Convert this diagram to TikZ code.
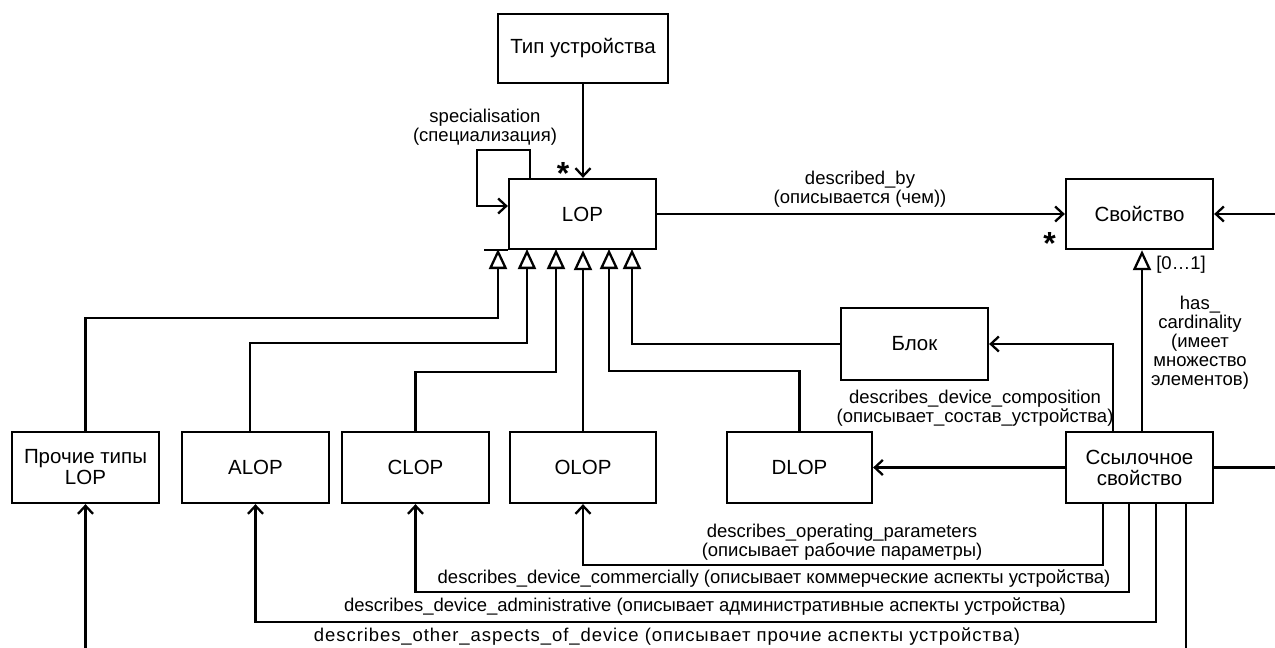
\documentclass[tikz,border=0pt]{standalone}
\usepackage{fontspec}
\setmainfont{Liberation Sans}
\usetikzlibrary{arrows.meta}
\begin{document}
\begin{tikzpicture}[x=1pt,y=-1pt,
  box/.style={draw,line width=2.3pt,minimum width=147pt,minimum height=71pt,inner sep=2pt,align=center,font=\fontsize{20.5}{21}\selectfont},
  lbl/.style={inner sep=0pt,align=center,font=\fontsize{18.5}{19}\selectfont},
  conn/.style={line width=2.3pt},
  arr/.style={conn,-{Straight Barb[length=8pt,width=15pt,line width=2.3pt]}},
  gen/.style={conn,-{Triangle[open,length=20pt,width=18pt,line width=2.3pt]}},
  star/.style={inner sep=0pt,font=\fontsize{32}{32}\selectfont\bfseries}
]
\useasboundingbox (0,0) rectangle (1275,648);
\fill[white] (0,0) rectangle (1275,648);

% boxes
\node[box,minimum width=170pt,minimum height=69pt] (typ) at (583,48.5) {Тип устройства};
\node[box,minimum height=70pt] (lop) at (582.5,214) {LOP};
\node[box,minimum height=70pt] (svo) at (1139.5,214) {Свойство};
\node[box,minimum height=72pt] (blok) at (914.5,344) {Блок};
\node[box] (proch) at (85.5,467.5) {Прочие типы\\LOP};
\node[box] (alop) at (255.5,467.5) {ALOP};
\node[box] (clop) at (415.5,467.5) {CLOP};
\node[box,minimum width=146pt] (olop) at (583,467.5) {OLOP};
\node[box,minimum width=145pt] (dlop) at (799.5,467.5) {DLOP};
\node[box] (ssyl) at (1139.5,467.5) {Ссылочное\\свойство};

% coordinates
\coordinate (sp1) at (530,150);
\coordinate (sp2) at (477,206);
\coordinate (g1) at (498,249);
\coordinate (g2) at (527,249);
\coordinate (g3) at (556,249);
\coordinate (g5) at (609,249);
\coordinate (g6) at (632,249);
\coordinate (re1) at (1275,214);
\coordinate (re2) at (1275,467.5);
\coordinate (bo1) at (1186,648);
\coordinate (bo2) at (85.5,648);

% top connectors
\draw[arr] (typ.south) -- (typ.south |- lop.north);
\draw[arr] (lop.north -| sp1) -- (sp1) -| (sp2) -- (sp2 -| lop.west);
\draw[arr] (lop.east) -- (svo.west);
\draw[arr] (re1) -- (svo.east);

% generalisation bar and arrows
\draw[conn] (lop.south west) -- ++(-24,0);
\draw[gen] (proch.north) |- (g1 |- 0,318) -- (g1);
\draw[gen] (alop.north -| 250,0) |- (g2 |- 0,343) -- (g2);
\draw[gen] (clop.north) |- (g3 |- 0,372) -- (g3);
\draw[gen] (olop.north) -- (olop.north |- lop.south);
\draw[gen] (dlop.north) |- (g5 |- 0,371) -- (g5);
\draw[gen] (blok.west) -| (g6);

% reference property
\draw[gen] (ssyl.north -| 1142,0) -- (svo.south -| 1142,0);
\draw[arr] (ssyl.north -| 1113,0) |- (blok.east);
\draw[arr] (ssyl.west) -- (dlop.east);
\draw[conn] (ssyl.east) -- (re2);
\draw[arr] (ssyl.south -| 1103,0) |- (olop.south |- 0,565) -- (olop.south);
\draw[arr] (ssyl.south -| 1129,0) |- (clop.south |- 0,592) -- (clop.south);
\draw[arr] (ssyl.south -| 1156,0) |- (alop.south |- 0,622) -- (alop.south);
\draw[conn] (ssyl.south -| bo1) -- (bo1);
\draw[arr] (bo2) -- (proch.south);

% labels
\node[lbl] (lspec) at (485,127) {specialisation\\(специализация)};
\node[lbl] (ldesc) at (860,189) {described\_by\\(описывается (чем))};
\node[lbl] (lcomp) at (975,408) {describes\_device\_composition\\(описывает\_состав\_устройства)};
\node[lbl] (lcard) at (1200,343) {has\_\\cardinality\\(имеет\\множество\\элементов)};
\node[lbl] (lcard01) at (1181,265) {[0…1]};
\node[lbl] (lopr) at (842,542) {describes\_operating\_parameters\\(описывает рабочие параметры)};
\node[lbl] (lcom) at (774,579) {describes\_device\_commercially (описывает коммерческие аспекты устройства)};
\node[lbl] (ladm) at (705,607) {describes\_device\_administrative (описывает административные аспекты устройства)};
\node[lbl] (loth) at (667,637) {\addfontfeature{LetterSpace=5}describes\_other\_aspects\_of\_device (описывает прочие аспекты устройства)};
\node[star] (st1) at (563,173) {*};
\node[star] (st2) at (1049.5,243) {*};
\end{tikzpicture}
\end{document}
